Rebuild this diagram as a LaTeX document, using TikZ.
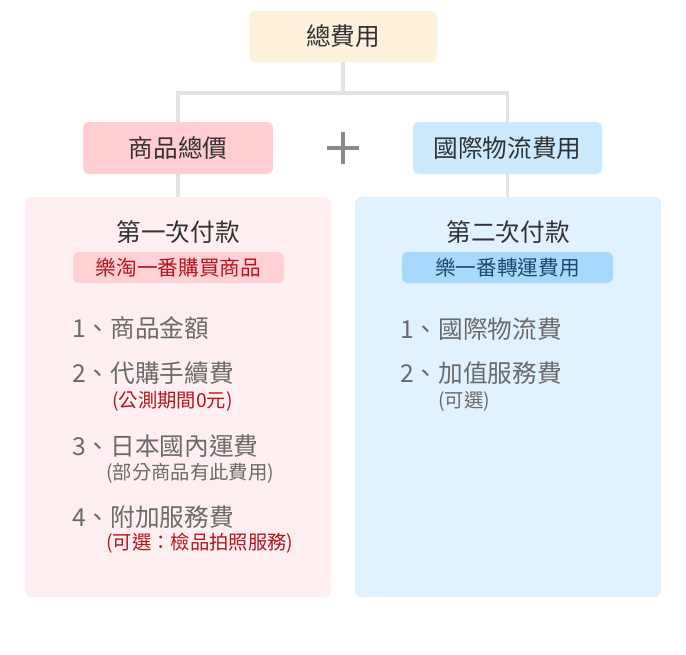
\documentclass[tikz,border=0pt]{standalone}
\usepackage{fontspec}
\setmainfont{Noto Sans CJK TC}
\definecolor{totalfill}{HTML}{FFF2DC}
\definecolor{goodsfill}{HTML}{FFCDD2}
\definecolor{shipfill}{HTML}{CCE9FF}
\definecolor{pinkpanel}{HTML}{FFEFF0}
\definecolor{bluepanel}{HTML}{E0F1FF}
\definecolor{pinkbadge}{HTML}{FFD0D4}
\definecolor{bluebadge}{HTML}{A6D9FC}
\definecolor{linkgray}{HTML}{E3E3E3}
\definecolor{plusgray}{HTML}{8A8A8A}
\definecolor{txtdark}{HTML}{333333}
\definecolor{txtgray}{HTML}{6B6B6B}
\definecolor{notered}{HTML}{B3161C}
\definecolor{noteblue}{HTML}{1C4A70}
\usetikzlibrary{positioning}
\begin{document}
\begin{tikzpicture}[x=0.75pt,y=-0.75pt,
  box/.style={rounded corners=4pt, inner sep=0pt, minimum height=39pt, text=txtdark, font=\fontsize{18.5}{20}\selectfont},
  panel/.style={rounded corners=5pt, inner sep=0pt, minimum width=229.5pt, minimum height=300pt},
  badge/.style={rounded corners=4pt, inner sep=0pt, minimum width=158.25pt, minimum height=23.25pt, font=\fontsize{15.5}{17}\selectfont},
  title/.style={inner sep=0pt, text=txtdark, font=\fontsize{18.5}{20}\selectfont},
  item/.style={anchor=west, inner sep=0pt, text=txtgray, font=\fontsize{18.5}{20}\selectfont},
  note/.style={anchor=west, inner sep=0pt, font=\fontsize{14.5}{16}\selectfont},
  link/.style={draw=linkgray, line width=2.5pt}]
\useasboundingbox (0,0) rectangle (686,654);
% boxes
\node[box, fill=totalfill, minimum width=141pt, minimum height=38.25pt] (total) at (343,36.5) {總費用};
\node[box, fill=goodsfill, minimum width=142.5pt] (goods) at (178,148) {商品總價};
\node[box, fill=shipfill, minimum width=141.75pt] (ship) at (507.5,148) {國際物流費用};
\node[panel, fill=pinkpanel] (first) at (178,397) {};
\node[panel, fill=bluepanel] (second) at (508,397) {};
\coordinate (split) at (343,93);
\draw[link] (total) -- (split);
\draw[link] (split) -| (goods);
\draw[link] (split) -| (ship);
\draw[link] (goods) -- (goods.south |- first.north);
\draw[link] (ship) -- (ship.south |- second.north);
\draw[draw=plusgray, line width=2.6pt] (327,148) -- (359,148) (343,132) -- (343,164);
% first payment
\node[title] (firsttitle) at (178,232) {第一次付款};
\node[badge, fill=pinkbadge, text=notered] (firstbadge) at (178.5,267.5) {樂淘一番購買商品};
\node[item] (fitem1) at (72,328) {1、商品金額};
\node[item] (fitem2) at (72,373) {2、代購手續費};
\node[note, text=notered] (fnote2) at (112,401) {(公測期間0元)};
\node[item] (fitem3) at (72,446) {3、日本國內運費};
\node[note, text=txtgray] (fnote3) at (106,473) {(部分商品有此費用)};
\node[item] (fitem4) at (72,517) {4、附加服務費};
\node[note, text=notered] (fnote4) at (106,543) {(可選：檢品拍照服務)};
% second payment
\node[title] (secondtitle) at (508,232) {第二次付款};
\node[badge, fill=bluebadge, text=noteblue] (secondbadge) at (507.5,267.5) {樂一番轉運費用};
\node[item] (sitem1) at (400,329) {1、國際物流費};
\node[item] (sitem2) at (400,373) {2、加值服務費};
\node[note, text=txtgray] (snote2) at (438,401) {(可選)};
\end{tikzpicture}
\end{document}
